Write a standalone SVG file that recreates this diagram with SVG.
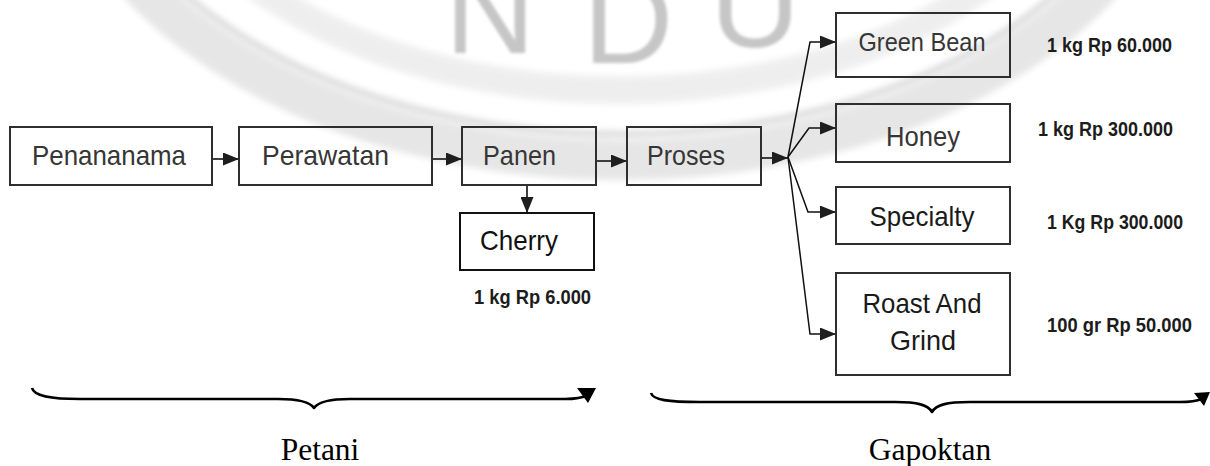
<svg xmlns="http://www.w3.org/2000/svg" width="1210" height="466" viewBox="0 0 1210 466">
  <style>
    .box { fill: none; stroke: #2e2e2e; stroke-width: 2; }
    .lbl { font-family: "Liberation Sans", Arial, sans-serif; font-size: 28px; fill: #363636; }
    .mid { text-anchor: middle; }
    .price { font-family: "Liberation Sans", Arial, sans-serif; font-size: 21px; font-weight: bold; fill: #1c1c1c; }
    .cap { font-family: "Liberation Serif", serif; font-size: 31.5px; fill: #000; text-anchor: middle; }
    .flow { fill: none; stroke: #2a2a2a; stroke-width: 1.8; }
    .fan { fill: none; stroke: #111; stroke-width: 1.5; }
    .brace { fill: none; stroke: #000; stroke-width: 2.6; stroke-linejoin: round; }
    .mark { fill: #c6c6c6; font-family: "Liberation Sans", sans-serif; font-size: 125px; }
  </style>
  <defs>
    <marker id="head" viewBox="0 0 16 13" refX="16" refY="6.5" markerWidth="16" markerHeight="13" markerUnits="userSpaceOnUse" orient="auto">
      <path d="M0,0 L16,6.5 L0,13 z" fill="#1e1e1e"/>
    </marker>
    <filter id="soft" x="-10%" y="-10%" width="120%" height="120%">
      <feGaussianBlur stdDeviation="3"/>
    </filter>
    <filter id="softer" x="-10%" y="-10%" width="120%" height="120%">
      <feGaussianBlur stdDeviation="1.6"/>
    </filter>
  </defs>

  <rect width="1210" height="466" fill="#fff"/>

  <!-- faint emblem in the background -->
  <g id="watermark">
    <g filter="url(#soft)" opacity="0.85">
      <ellipse cx="620" cy="-200" rx="560" ry="360" fill="none" stroke="#e2e2e2" stroke-width="40"/>
      <ellipse cx="620" cy="-200" rx="534" ry="334" fill="none" stroke="#d2d2d2" stroke-width="6"/>
      <ellipse cx="620" cy="-200" rx="475" ry="290" fill="none" stroke="#ececec" stroke-width="28"/>
    </g>
    <g filter="url(#softer)">
      <text class="mark" x="445" y="53">N</text>
      <text class="mark" x="583" y="63">D</text>
      <text class="mark" x="710" y="47">U</text>
    </g>
  </g>

  <!-- connectors -->
  <g id="connectors">
    <path class="flow" d="M213,159 H239" marker-end="url(#head)"/>
    <path class="flow" d="M433,159 H462" marker-end="url(#head)"/>
    <path class="flow" d="M597,161 H627" marker-end="url(#head)"/>
    <path class="flow" d="M527,186 V213" marker-end="url(#head)"/>
    <path class="flow" d="M762,158 H788" marker-end="url(#head)"/>
    <path class="fan" d="M788,157 L810,42 H836" marker-end="url(#head)"/>
    <path class="fan" d="M788,157 L809,128 H836" marker-end="url(#head)"/>
    <path class="fan" d="M788,157 L808,212 H836" marker-end="url(#head)"/>
    <path class="fan" d="M788,157 L810,334 H836" marker-end="url(#head)"/>
  </g>

  <!-- farmer stages -->
  <g id="penananama">
    <rect class="box" x="10" y="127" width="202" height="58"/>
    <text class="lbl" x="32" y="165" textLength="154" lengthAdjust="spacingAndGlyphs">Penananama</text>
  </g>
  <g id="perawatan">
    <rect class="box" x="239" y="127" width="193" height="58"/>
    <text class="lbl" x="262" y="165" textLength="127" lengthAdjust="spacingAndGlyphs">Perawatan</text>
  </g>
  <g id="panen">
    <rect class="box" x="462" y="127" width="134" height="58"/>
    <text class="lbl" x="483" y="165" textLength="73" lengthAdjust="spacingAndGlyphs">Panen</text>
  </g>
  <g id="cherry">
    <rect class="box" x="460" y="213" width="134" height="57" style="stroke:#111"/>
    <text class="lbl" x="480" y="250" style="fill:#111" textLength="78" lengthAdjust="spacingAndGlyphs">Cherry</text>
    <text class="price" x="474" y="304" textLength="117" lengthAdjust="spacingAndGlyphs">1 kg Rp 6.000</text>
  </g>

  <!-- group processing -->
  <g id="proses">
    <rect class="box" x="627" y="127" width="134" height="58"/>
    <text class="lbl" x="647" y="165" textLength="78" lengthAdjust="spacingAndGlyphs">Proses</text>
  </g>
  <g id="green-bean">
    <rect class="box" x="836" y="13" width="174" height="64"/>
    <text class="lbl mid" x="922" y="51" style="font-size:26px" textLength="127" lengthAdjust="spacingAndGlyphs">Green Bean</text>
    <text class="price" x="1047" y="52" textLength="125" lengthAdjust="spacingAndGlyphs">1 kg Rp 60.000</text>
  </g>
  <g id="honey">
    <rect class="box" x="836" y="104" width="174" height="58"/>
    <text class="lbl mid" x="923" y="146" textLength="74" lengthAdjust="spacingAndGlyphs">Honey</text>
    <text class="price" x="1038" y="136" textLength="135" lengthAdjust="spacingAndGlyphs">1 kg Rp 300.000</text>
  </g>
  <g id="specialty">
    <rect class="box" x="836" y="187" width="174" height="57"/>
    <text class="lbl mid" x="922" y="226" style="fill:#1a1a1a" textLength="105" lengthAdjust="spacingAndGlyphs">Specialty</text>
    <text class="price" x="1047" y="229" textLength="136" lengthAdjust="spacingAndGlyphs">1 Kg Rp 300.000</text>
  </g>
  <g id="roast-grind">
    <rect class="box" x="836" y="273" width="174" height="102"/>
    <text class="lbl mid" x="922" y="313" style="fill:#1a1a1a" textLength="119" lengthAdjust="spacingAndGlyphs">Roast And</text>
    <text class="lbl mid" x="923" y="350" style="fill:#1a1a1a" textLength="66" lengthAdjust="spacingAndGlyphs">Grind</text>
    <text class="price" x="1047" y="332" textLength="145" lengthAdjust="spacingAndGlyphs">100 gr Rp 50.000</text>
  </g>

  <!-- stakeholder braces -->
  <g id="petani">
    <path class="brace" d="M32,388 C34,396 50,399 80,399 H278 C300,399 310,402 314,408 C318,402 328,399 350,399 H565 C575,399 582,398 588,395"/>
    <polygon points="577,388 596,388 588,403" fill="#000"/>
    <text class="cap" x="320" y="460">Petani</text>
  </g>
  <g id="gapoktan">
    <path class="brace" d="M651,393 C653,400 668,402 700,402 H895 C918,402 928,405 932,412 C936,405 946,402 970,402 H1180 C1190,402 1197,401 1202,399"/>
    <polygon points="1194,393 1210,392 1204,406" fill="#000"/>
    <text class="cap" x="930" y="460">Gapoktan</text>
  </g>
</svg>
